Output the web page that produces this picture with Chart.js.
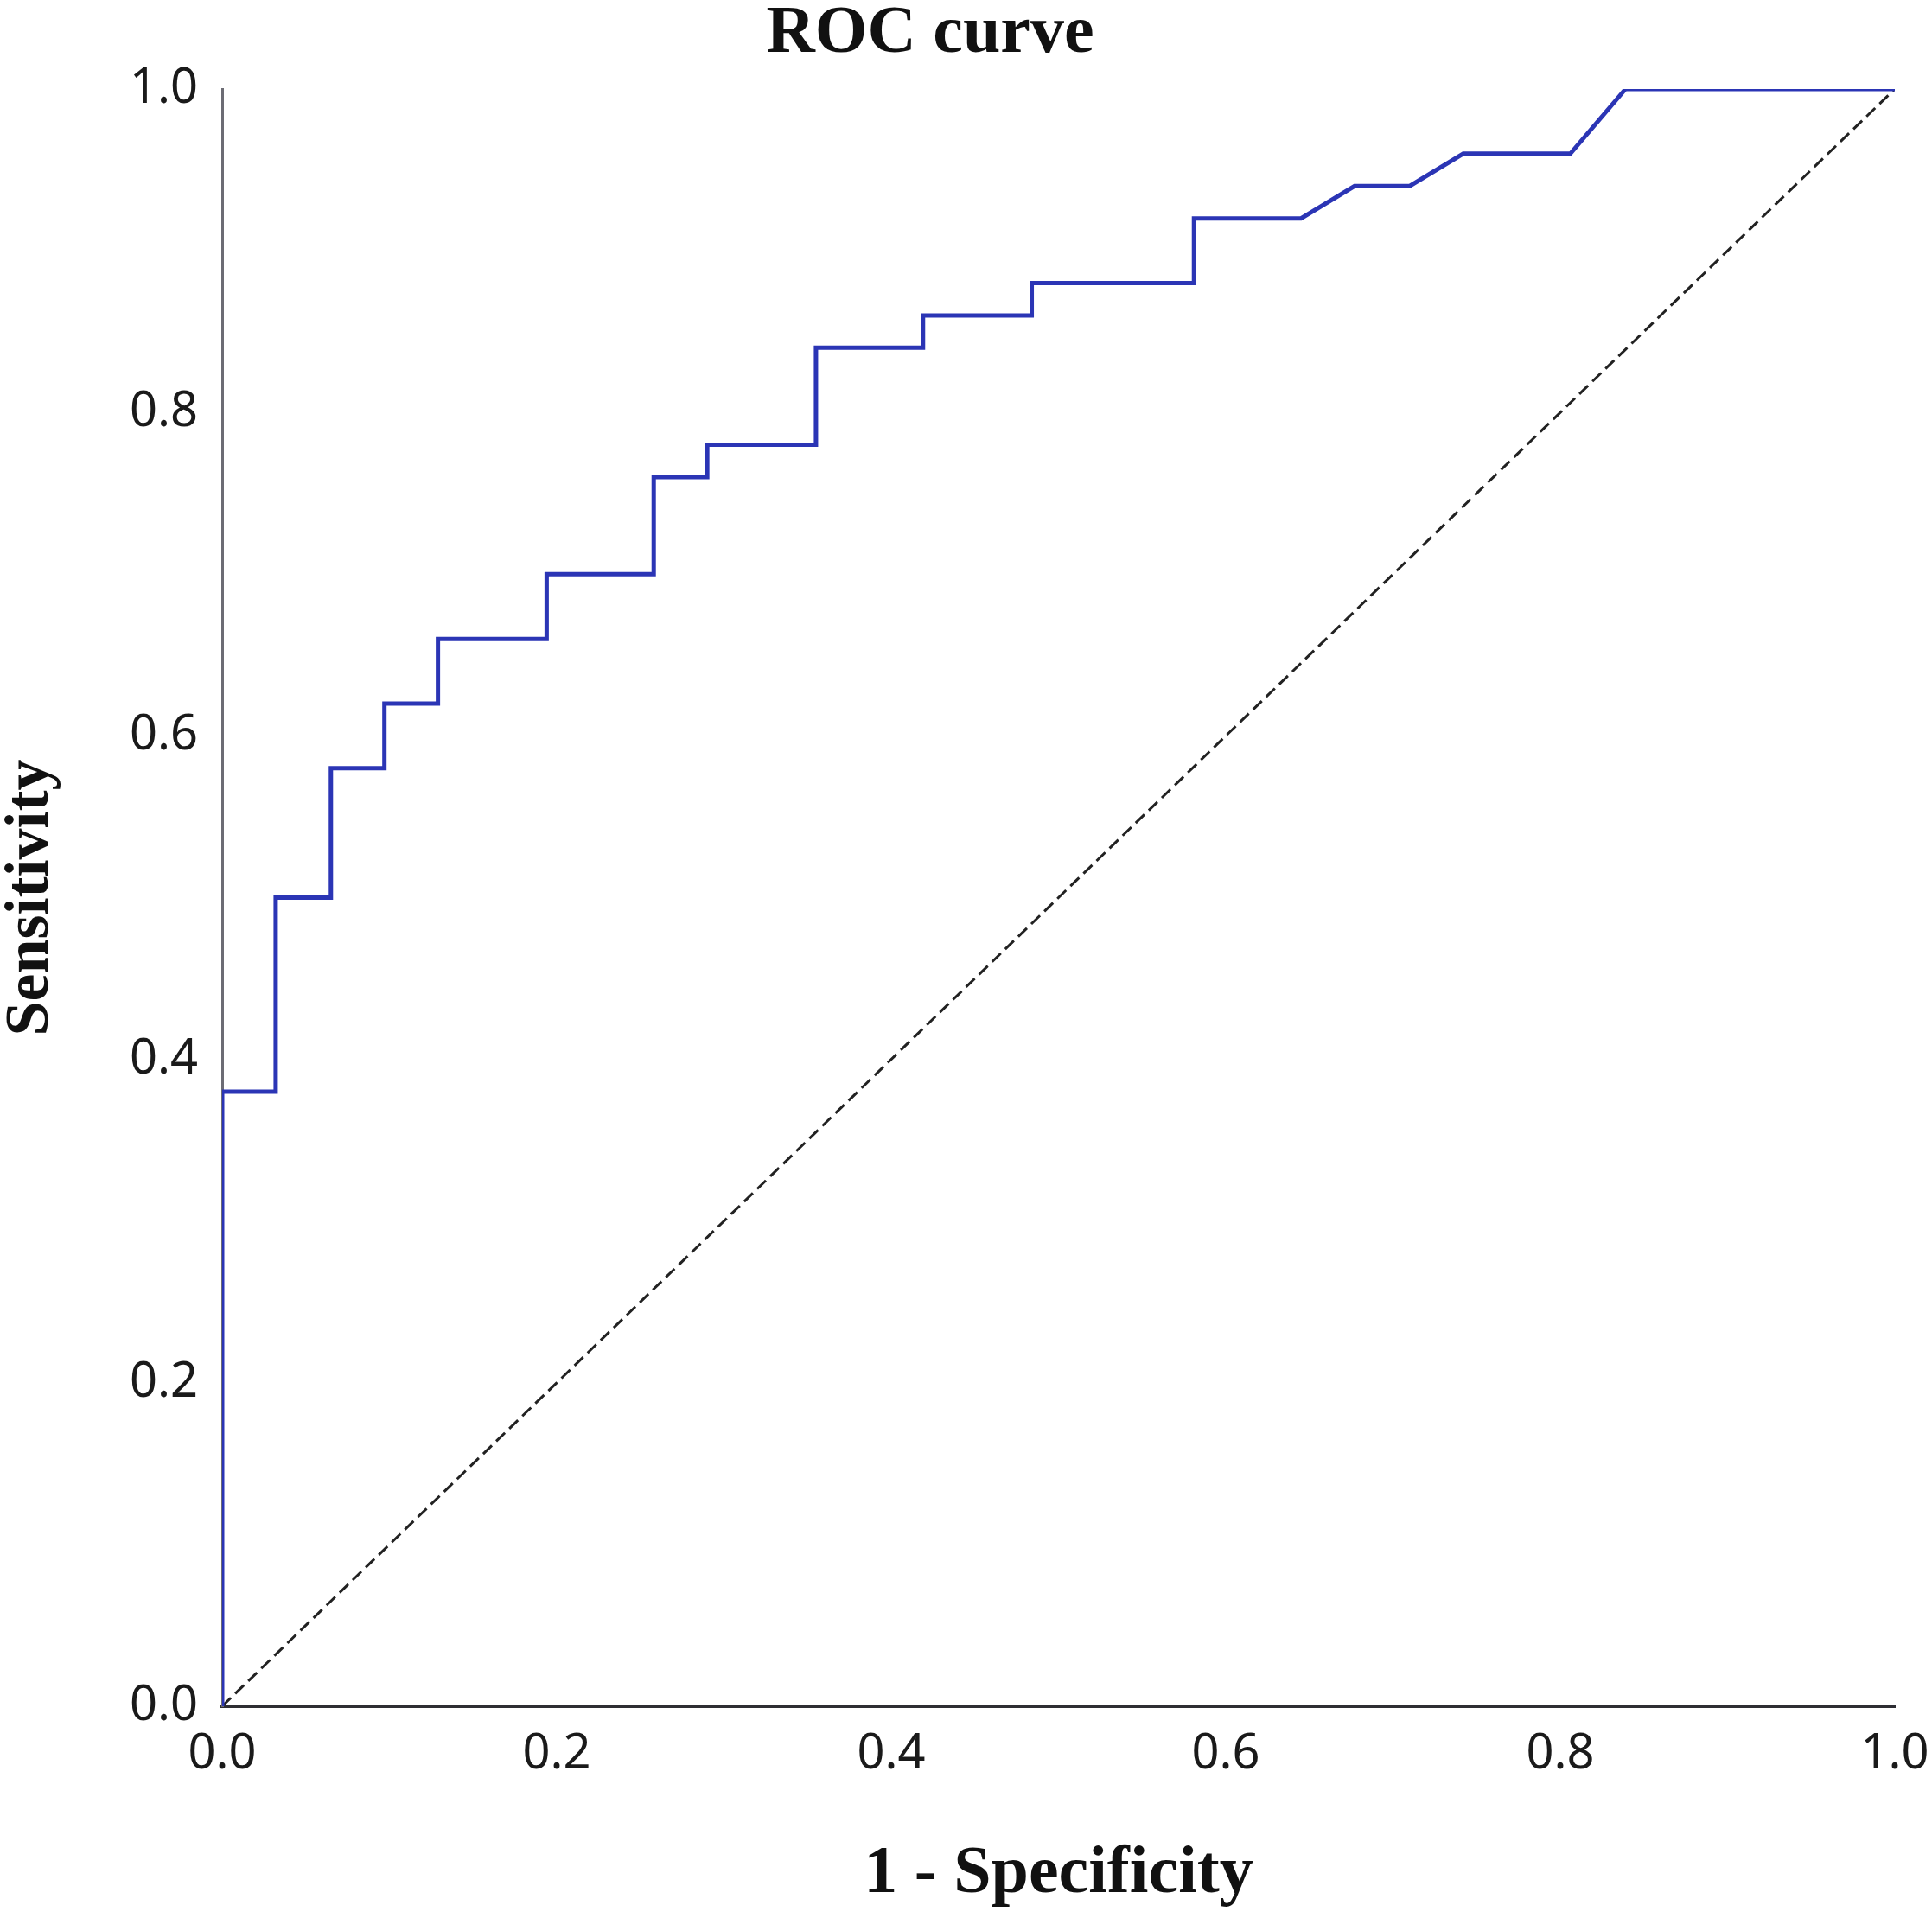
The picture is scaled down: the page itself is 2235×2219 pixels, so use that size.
<!DOCTYPE html>
<html>
<head>
<meta charset="utf-8">
<title>ROC curve</title>
<script src="https://cdn.jsdelivr.net/npm/chart.js@4.4.1/dist/chart.umd.min.js"></script>
<style>
  html, body { margin: 0; padding: 0; background: #fff; }
  canvas { display: block; }
</style>
</head>
<body>
<canvas id="roc" width="2235" height="2219"></canvas>
<script>
// ROC steps (1 - specificity, sensitivity)
const fprValues = [0, 0, 0.032, 0.032, 0.065, 0.065, 0.097, 0.097, 0.129, 0.129,
    0.194, 0.194, 0.258, 0.258, 0.290, 0.290, 0.355, 0.355, 0.419, 0.419,
    0.484, 0.484, 0.581, 0.581, 0.645, 0.677, 0.710, 0.742, 0.806, 0.839, 1.0];
const tprValues = [0, 0.38, 0.38, 0.50, 0.50, 0.58, 0.58, 0.62, 0.62, 0.66,
    0.66, 0.70, 0.70, 0.76, 0.76, 0.78, 0.78, 0.84, 0.84, 0.86,
    0.86, 0.88, 0.88, 0.92, 0.92, 0.94, 0.94, 0.96, 0.96, 1.0, 1.0];

// reference (chance) line
const chanceX = [0, 1];
const chanceY = [0, 1];

const tickValues = [0, 0.2, 0.4, 0.6, 0.8, 1.0];

const chartTitle = 'ROC curve';
const xTitle = '1 - Specificity';
const yTitle = 'Sensitivity';

const toPoints = (xs, ys) => xs.map((x, i) => ({ x: x, y: ys[i] }));

// title is drawn by hand so it can sit a little left of the plot centre, like the original
const titlePlugin = {
    id: 'rocTitle',
    afterDraw(chart) {
        const ctx = chart.ctx;
        ctx.save();
        ctx.font = 'bold 78px "Liberation Serif", "Times New Roman", serif';
        ctx.fillStyle = '#111';
        ctx.textAlign = 'center';
        ctx.textBaseline = 'middle';
        ctx.fillText(chartTitle, 1076, 40);
        ctx.restore();
    }
};

const tickFont = { family: '"Noto Sans", "Open Sans", sans-serif', size: 56 };

new Chart(document.getElementById('roc'), {
    type: 'scatter',
    data: {
        datasets: [
            {
                label: 'ROC',
                data: toPoints(fprValues, tprValues),
                showLine: true,
                borderColor: '#2b35b5',
                borderWidth: 5,
                pointRadius: 0,
                tension: 0,
                order: 0
            },
            {
                label: 'Reference',
                data: toPoints(chanceX, chanceY),
                showLine: true,
                borderColor: '#222',
                borderWidth: 3,
                borderDash: [14, 7],
                pointRadius: 0,
                order: 1
            }
        ]
    },
    options: {
        responsive: false,
        devicePixelRatio: 1,
        animation: false,
        layout: { padding: { top: 103, right: 43, left: 0, bottom: 0 } },
        plugins: {
            legend: { display: false },
            tooltip: { enabled: false },
            title: { display: false }
        },
        scales: {
            x: {
                type: 'linear',
                min: 0,
                max: 1,
                afterFit: (scale) => {
                    scale.height = 245;
                    // let the last label run off the edge, as in the original
                    scale.paddingLeft = 0;
                    scale.paddingRight = 0;
                },
                afterBuildTicks: (scale) => { scale.ticks = tickValues.map(v => ({ value: v })); },
                grid: { display: false, drawTicks: false },
                border: { display: true, color: '#2e2e33', width: 4 },
                ticks: {
                    padding: 22,
                    color: '#1a1a1a',
                    font: tickFont,
                    callback: (v) => v.toFixed(1)
                },
                title: {
                    display: true,
                    text: xTitle,
                    color: '#111',
                    font: { family: '"Liberation Serif", "Times New Roman", serif', size: 78, weight: 'bold', lineHeight: 1.0 },
                    padding: { top: 0, bottom: 11 }
                }
            },
            y: {
                type: 'linear',
                min: 0,
                max: 1,
                afterFit: (scale) => { scale.width = 257; },
                afterBuildTicks: (scale) => { scale.ticks = tickValues.map(v => ({ value: v })); },
                grid: { display: false, drawTicks: false },
                border: { display: true, color: '#6c6c74', width: 3 },
                ticks: {
                    padding: 28,
                    color: '#1a1a1a',
                    font: tickFont,
                    callback: (v) => v.toFixed(1)
                },
                title: {
                    display: true,
                    text: yTitle,
                    color: '#111',
                    font: { family: '"Liberation Serif", "Times New Roman", serif', size: 72, weight: 'bold', lineHeight: 1.0 },
                    padding: { top: 0, bottom: 0 }
                }
            }
        }
    },
    plugins: [titlePlugin]
});
</script>
</body>
</html>
